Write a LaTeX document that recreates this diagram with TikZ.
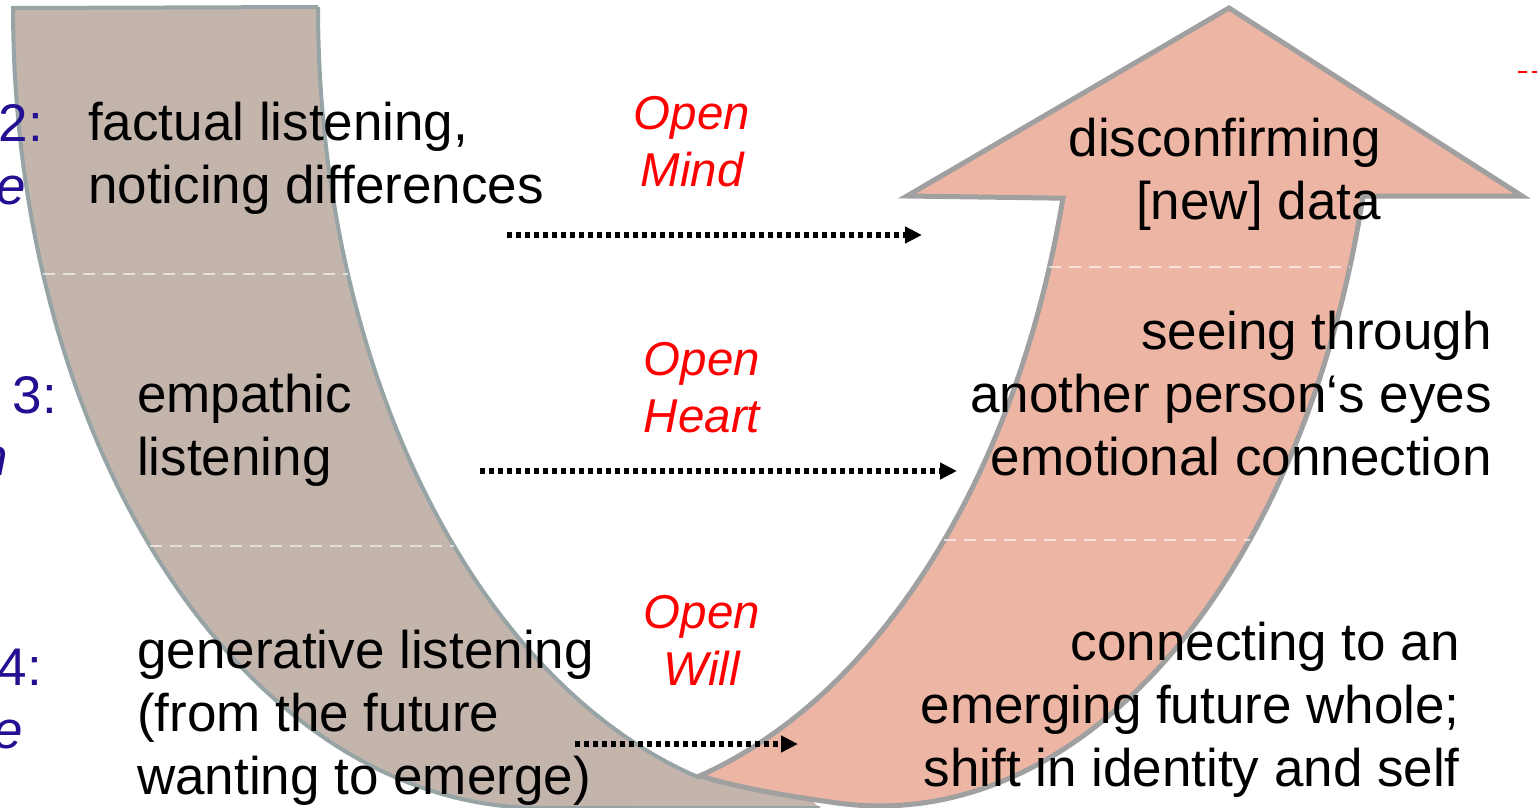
\documentclass[tikz,border=0pt]{standalone}
\usepackage{fontspec}
\setmainfont{Liberation Sans}
\usetikzlibrary{arrows.meta}
\definecolor{taupe}{RGB}{196,181,172}
\definecolor{taupeedge}{RGB}{150,164,166}
\definecolor{salmon}{RGB}{237,181,163}
\definecolor{salmonedge}{RGB}{160,160,160}
\definecolor{lvlblue}{RGB}{35,15,145}
\definecolor{openred}{RGB}{255,0,0}
\tikzset{
  bigtext/.style={inner sep=0pt, font=\fontsize{53}{63}\selectfont, text=black},
  bluetext/.style={inner sep=0pt, font=\fontsize{53}{63}\selectfont, text=lvlblue},
  bluetextit/.style={inner sep=0pt, font=\fontsize{53}{63}\selectfont\itshape, text=lvlblue},
  redtext/.style={inner sep=0pt, font=\fontsize{47.5}{57}\selectfont\itshape, text=openred},
  dotarrow/.style={line width=5.5pt, dash pattern=on 5pt off 4pt, -{Triangle[length=17pt,width=16pt]}},
  bandline/.style={white, opacity=0.6, line width=2pt, dash pattern=on 12pt off 8pt},
}
\begin{document}
\begin{tikzpicture}[x=1pt,y=-1pt]
\useasboundingbox (0,0) rectangle (1537,808);
% left band (taupe)
\fill[taupe] (13,8) -- plot[domain=0:90,samples=80] ({540-527*cos(\x)},{8+800*sin(\x)})
  -- (820,808) -- (800,790) -- (740,775)
  -- plot[domain=74.5:0,samples=80] ({839-521*cos(\x)},{7+800*sin(\x)}) -- cycle;
\draw[taupeedge, line width=4pt] (318,7) -- (13,8)
  -- plot[domain=0:90,samples=80] ({540-527*cos(\x)},{8+800*sin(\x)}) -- (820,808);
\draw[taupeedge, line width=4pt] plot[domain=0:74.5,samples=80] ({839-521*cos(\x)},{7+800*sin(\x)});
\draw[bandline] (43,274) -- (348,274);
\draw[bandline] (150,546) -- (454,546);
% right arrow (salmon)
\filldraw[fill=salmon, draw=salmonedge, line width=5pt]
  (1363,196) -- plot[domain=14.1:95,samples=80] ({880+498*cos(\x)},{806*sin(\x)})
  .. controls (787,796) and (740,788) .. (700,776)
  -- plot[domain=73.8:14.2,samples=80] ({553+526*cos(\x)},{808*sin(\x)})
  -- (907,196) -- (1229,8) -- (1522,196) -- cycle;
\draw[bandline] (1049,267) -- (1350,267);
\draw[bandline] (944,540) -- (1250,540);
% stray red dashes at right edge
\draw[openred, line width=2pt, dash pattern=on 9pt off 5pt] (1518,72) -- (1545,72);
% left (cut-off) level labels
\node[bluetext, anchor=base east] (l2) at (43,141) {2:};
\node[bluetextit, anchor=base east] (l2b) at (26,204) {e};
\node[bluetext, anchor=base east] (l3) at (57,413) {3:};
\node[bluetextit, anchor=base east] (l3b) at (8,475) {n};
\node[bluetext, anchor=base east] (l4) at (42,685) {4:};
\node[bluetextit, anchor=base east] (l4b) at (23,748) {e};
% listening texts
\node[bigtext, anchor=base west] (f) at (88,140)
  {\begin{tabular}[t]{@{}l@{}}factual listening,\\noticing differences\end{tabular}};
\node[bigtext, anchor=base west] (e) at (137,412)
  {\begin{tabular}[t]{@{}l@{}}empathic\\listening\end{tabular}};
\node[bigtext, anchor=base west] (g) at (137,668)
  {\begin{tabular}[t]{@{}l@{}}generative listening\\(from the future\\wanting to emerge)\end{tabular}};
\node[bigtext, anchor=base east] (d) at (1381,156)
  {\begin{tabular}[t]{@{}r@{}}disconfirming\\{}[new] data\end{tabular}};
\node[bigtext, anchor=base east] (s) at (1492,349)
  {\begin{tabular}[t]{@{}r@{}}seeing through\\another person‘s eyes\\emotional connection\end{tabular}};
\node[bigtext, anchor=base east] (c) at (1460,660)
  {\begin{tabular}[t]{@{}r@{}}connecting to an\\emerging future whole;\\shift in identity and self\end{tabular}};
% red labels
\node[redtext, anchor=base] (om) at (692,129)
  {\begin{tabular}[t]{@{}c@{}}Open\\Mind\end{tabular}};
\node[redtext, anchor=base] (oh) at (702,375)
  {\begin{tabular}[t]{@{}c@{}}Open\\Heart\end{tabular}};
\node[redtext, anchor=base] (ow) at (702,628)
  {\begin{tabular}[t]{@{}c@{}}Open\\Will\end{tabular}};
% dotted arrows
\coordinate (m1) at (507,235); \coordinate (m2) at (922,235);
\coordinate (h1) at (480,471); \coordinate (h2) at (957,471);
\coordinate (w1) at (575,744); \coordinate (w2) at (798,744);
\draw[dotarrow] (m1) -- (m2);
\draw[dotarrow] (h1) -- (h2);
\draw[dotarrow] (w1) -- (w2);
\end{tikzpicture}
\end{document}
